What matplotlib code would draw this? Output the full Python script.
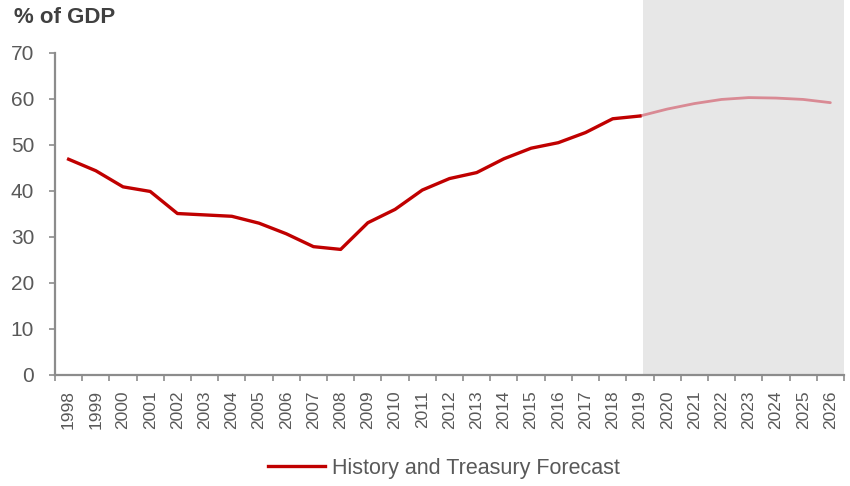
import numpy as np
import matplotlib
matplotlib.use('Agg')
import matplotlib.pyplot as plt
from matplotlib.lines import Line2D

plt.rcParams['font.family'] = ['Liberation Sans', 'DejaVu Sans']

years = [str(y) for y in range(1998, 2027)]

# history, 1998-2019
history = [46.9, 44.4, 40.9, 39.9, 35.1, 34.8, 34.5, 33.0, 30.7, 27.9, 27.3,
           33.1, 36.0, 40.2, 42.7, 44.0, 47.0, 49.3, 50.5, 52.7, 55.7, 56.3]
# treasury forecast, 2019-2026
forecast = [56.3, 57.8, 59.0, 59.9, 60.3, 60.2, 59.9, 59.2]

yticks = [0, 10, 20, 30, 40, 50, 60, 70]

dark_red = '#C00000'
light_red = '#D98A94'
grey = '#595959'
axis_grey = '#8C8C8C'

fig = plt.figure(figsize=(8.5, 4.86), dpi=100)
ax = fig.add_axes([0.0647, 0.2284, 0.9282, 0.6626])

x = np.arange(len(years))
n_hist = len(history)
x_hist = x[:n_hist]
x_fc = x[n_hist - 1:]

# shaded forecast period, runs up to the top of the figure
ax.axvspan(x_fc[0] + 0.1, len(years) - 0.5, ymin=0, ymax=1.3,
           color='#E7E7E7', lw=0, clip_on=False, zorder=0)

ax.plot(x_fc, forecast, color=light_red, lw=2.0, solid_capstyle='round', zorder=3)
ax.plot(x_hist, history, color=dark_red, lw=2.4, solid_joinstyle='round',
        zorder=4, label='History and Treasury Forecast')

ax.set_xlim(-0.5, len(years) - 0.5)
ax.set_ylim(0, 70)

for side in ['top', 'right']:
    ax.spines[side].set_visible(False)
for side in ['left', 'bottom']:
    ax.spines[side].set_color(axis_grey)
    ax.spines[side].set_linewidth(1.6)

ax.set_yticks(yticks)
ax.tick_params(axis='y', length=4.5, width=1.2, color=axis_grey, pad=10.5,
               labelsize=15, labelcolor=grey)

# year labels at category centres, tick marks at category boundaries
ax.set_xticks(x)
ax.set_xticklabels(years, rotation=90)
ax.set_xticks(np.arange(len(years) + 1) - 0.5, minor=True)
ax.tick_params(axis='x', which='major', length=0, pad=11, labelsize=12.5,
               labelcolor=grey)
ax.tick_params(axis='x', which='minor', length=4.5, width=1.2, color=axis_grey)

fig.text(0.016, 0.963, '% of GDP', fontsize=16, fontweight='bold', color='#404040',
         va='center', ha='left')

handle = Line2D([], [], color=dark_red, lw=2.4)
fig.legend([handle], ['History and Treasury Forecast'], loc='center',
           bbox_to_anchor=(0.522, 0.037), frameon=False, fontsize=15.5,
           labelcolor=grey, handlelength=2.65, handletextpad=0.3)

fig.savefig('out.png', dpi=100)
